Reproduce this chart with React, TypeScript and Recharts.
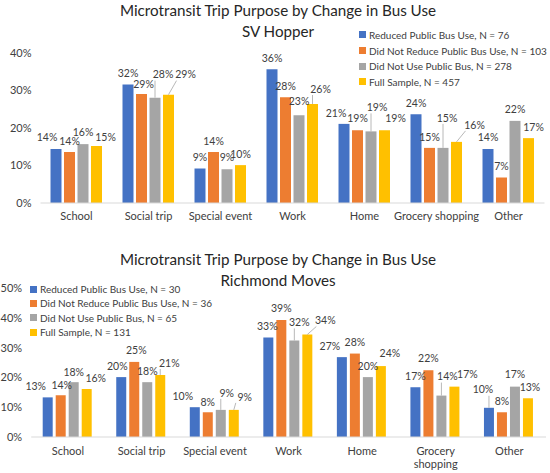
import { BarChart, Bar, XAxis, YAxis, Legend, LabelList } from "recharts";

const FONT = "Lato, 'Open Sans', sans-serif";

const categories = ["School", "Social trip", "Special event", "Work", "Home", "Grocery shopping", "Other"];
const seriesNames = ["Reduced Public Bus Use", "Did Not Reduce Public Bus Use", "Did Not Use Public Bus", "Full Sample"];
const seriesColors = ["#4472C4", "#ED7D31", "#A5A5A5", "#FFC000"];

// SV Hopper (% of trips)
const svCounts = [76, 103, 278, 457];
const svReduced = [14.4, 31.6, 9.2, 35.7, 21.1, 23.7, 14.4];
const svDidNotReduce = [13.6, 29.1, 13.6, 28.2, 19.4, 14.7, 6.8];
const svDidNotUse = [15.7, 28.1, 9.0, 23.4, 19.1, 14.7, 21.9];
const svFull = [15.2, 28.9, 10.1, 26.4, 19.4, 16.3, 17.3];
const svTicks = [0, 10, 20, 30, 40];

// Richmond Moves (% of trips)
const rmCounts = [30, 36, 65, 131];
const rmReduced = [13.3, 20.1, 10.0, 33.4, 26.8, 16.7, 9.8];
const rmDidNotReduce = [14.0, 25.2, 8.3, 39.3, 28.0, 22.4, 8.3];
const rmDidNotUse = [18.4, 18.4, 9.1, 32.4, 20.1, 13.9, 16.9];
const rmFull = [16.1, 20.8, 9.1, 34.4, 23.8, 16.9, 13.0];
const rmTicks = [0, 10, 20, 30, 40, 50];

// data label nudges [dx, dy from bar top, leader line], like Excel's dragged labels
type Nudge = [number, number, boolean?];
const svNudges: Nudge[][] = [
  [[-9, -12], [0, -11], [0, -11], [0, -11], [-8, -11], [0, -11], [0, -12]],
  [[0, -11], [2, -10], [0, -11], [0, -11], [0, -12], [0, -11], [0, -11]],
  [[0, -12], [8, -23, true], [0, -12], [0, -14], [6, -24, true], [4, -30, true], [0, -12]],
  [[9, -9], [17, -20, true], [0, -11], [8, -15, true], [11, -12], [18, -17, true], [5, -11]],
];
const rmNudges: Nudge[][] = [
  [[-12, -11], [-4, -11], [-12, -11], [-1, -11], [-12, -11], [0, -11], [-6, -18, true]],
  [[1, -10], [2, -12], [0, -10], [0, -12], [0, -11], [0, -12], [0, -11]],
  [[0, -10], [0, -11], [6, -17, true], [5, -18, true], [0, -11], [6, -19, true], [0, -12]],
  [[9, -11], [9, -12, true], [11, -13, true], [18, -14, true], [9, -13], [13, -12], [2, -11]],
];

function buildRows(series: number[][]) {
  return categories.map((name, i) => {
    const row: Record<string, string | number> = { name };
    series.forEach((s, k) => (row["s" + k] = s[i]));
    return row;
  });
}

const svData = buildRows([svReduced, svDidNotReduce, svDidNotUse, svFull]);
const rmData = buildRows([rmReduced, rmDidNotReduce, rmDidNotUse, rmFull]);

function makeLabel(nudges: Nudge[]) {
  return (p: any) => {
    const [dx, dy, leader] = nudges[p.index] ?? [0, -11];
    const bx = Number(p.x) + Number(p.width) / 2;
    const top = Math.min(Number(p.y), Number(p.y) + Number(p.height));
    const lx = bx + dx;
    const ly = top + dy;
    const ex = Math.max(lx - 9, Math.min(lx + 9, bx));
    const ey = Math.max(ly - 6, Math.min(ly + 6, top));
    return (
      <g>
        {leader && <line x1={bx} y1={top} x2={ex} y2={ey} stroke="#a6a6a6" strokeWidth={0.8} />}
        <text x={lx} y={ly} dy="0.35em" textAnchor="middle" fontSize={10.5} fill="#404040" fontFamily={FONT}>
          {Math.round(Number(p.value))}%
        </text>
      </g>
    );
  };
}

// long category names go on two lines in the narrower panel
function CategoryTick(props: any) {
  const { x, y, payload, wrap } = props;
  const label = String(payload.value);
  const lines = wrap && label.length > 14 ? label.split(" ") : [label];
  return (
    <text x={x} y={y} textAnchor="middle" fontSize={11} fill="#404040" fontFamily={FONT}>
      {lines.map((l, i) => (
        <tspan key={i} x={x} dy={i === 0 ? "0.71em" : 13}>
          {l}
        </tspan>
      ))}
    </text>
  );
}

function LegendBox({ counts, rowHeight }: { counts: number[]; rowHeight: number }) {
  return (
    <div style={{ fontFamily: FONT, fontSize: 10, color: "#404040" }}>
      {seriesNames.map((n, i) => (
        <div key={n} style={{ display: "flex", alignItems: "center", height: rowHeight, whiteSpace: "nowrap" }}>
          <span style={{ width: 7, height: 7, background: seriesColors[i], marginRight: 3, flex: "none" }} />
          {n}, N = {counts[i]}
        </div>
      ))}
    </div>
  );
}

interface PanelProps {
  data: Record<string, string | number>[];
  nudges: Nudge[][];
  ticks: number[];
  counts: number[];
  height: number;
  margin: { top: number; right: number; bottom: number; left: number };
  yWidth: number;
  gap: number;
  catGap: number;
  legendPos: { left: number; top: number };
  legendRow: number;
  wrap: boolean;
}

function Panel(p: PanelProps) {
  return (
    <BarChart width={550} height={p.height} data={p.data} margin={p.margin} barGap={p.gap} barCategoryGap={p.catGap}>
      <XAxis
        dataKey="name"
        axisLine={{ stroke: "#d9d9d9" }}
        tickLine={false}
        tickSize={0}
        tickMargin={p.wrap ? 10 : 9}
        height={30}
        interval={0}
        tick={(t: any) => <CategoryTick {...t} wrap={p.wrap} />}
      />
      <YAxis
        domain={[0, p.ticks[p.ticks.length - 1]]}
        ticks={p.ticks}
        width={p.yWidth}
        axisLine={false}
        tickLine={false}
        tickSize={0}
        tickMargin={9}
        tickFormatter={(v: number) => `${v}%`}
        tick={{ fontSize: 11, fill: "#404040", fontFamily: FONT }}
      />
      <Legend
        layout="vertical"
        align="center"
        verticalAlign="middle"
        wrapperStyle={{ left: p.legendPos.left, top: p.legendPos.top, width: "auto" }}
        content={() => <LegendBox counts={p.counts} rowHeight={p.legendRow} />}
      />
      {seriesColors.map((c, k) => (
        <Bar key={k} dataKey={"s" + k} name={seriesNames[k]} fill={c} isAnimationActive={false}>
          <LabelList dataKey={"s" + k} content={makeLabel(p.nudges[k])} />
        </Bar>
      ))}
    </BarChart>
  );
}

function Title({ top, lines }: { top: number; lines: string[] }) {
  return (
    <div
      style={{
        position: "absolute",
        left: 0,
        width: 556,
        top,
        textAlign: "center",
        fontFamily: FONT,
        fontSize: 15.2,
        lineHeight: "21px",
        color: "#262626",
      }}
    >
      {lines.map((l) => (
        <div key={l}>{l}</div>
      ))}
    </div>
  );
}

export default function App() {
  return (
    <div style={{ position: "fixed", left: 0, top: 0, width: 550, height: 473, background: "#fff", overflow: "hidden" }}>
      <div style={{ position: "absolute", left: 0, top: 0 }}>
        <Panel
          data={svData}
          nudges={svNudges}
          ticks={svTicks}
          counts={svCounts}
          height={235}
          margin={{ top: 53, right: 5.5, bottom: 2, left: 0 }}
          yWidth={40.5}
          gap={2.5}
          catGap={10}
          legendPos={{ left: 359, top: 27 }}
          legendRow={15.7}
          wrap={false}
        />
      </div>
      <div style={{ position: "absolute", left: 0, top: 240 }}>
        <Panel
          data={rmData}
          nudges={rmNudges}
          ticks={rmTicks}
          counts={rmCounts}
          height={233}
          margin={{ top: 48, right: 4, bottom: 6, left: 0 }}
          yWidth={31.2}
          gap={3}
          catGap={11.5}
          legendPos={{ left: 30, top: 42 }}
          legendRow={14.3}
          wrap={true}
        />
      </div>
      <Title top={-0.5} lines={["Microtransit Trip Purpose by Change in Bus Use", "SV Hopper"]} />
      <Title top={248.5} lines={["Microtransit Trip Purpose by Change in Bus Use", "Richmond Moves"]} />
    </div>
  );
}
